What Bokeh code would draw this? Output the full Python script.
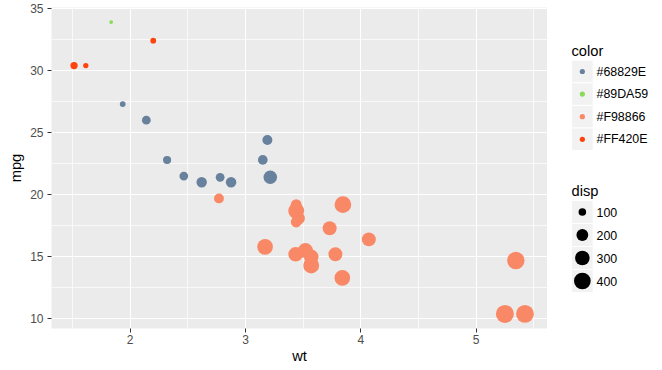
import math
from bokeh.plotting import figure
from bokeh.layouts import row
from bokeh.models import ColumnDataSource, Range1d, FixedTicker
from bokeh.core.properties import value
from bokeh.embed import file_html
from bokeh.resources import INLINE

# ---- data (mtcars) ----
wt = [2.620, 2.875, 2.320, 3.215, 3.440, 3.460, 3.570, 3.190, 3.150, 3.440, 3.440,
      4.070, 3.730, 3.780, 5.250, 5.424, 5.345, 2.200, 1.615, 1.835, 2.465, 3.520,
      3.435, 3.840, 3.845, 1.935, 2.140, 1.513, 3.170, 2.770, 3.570, 2.780]
mpg = [21.0, 21.0, 22.8, 21.4, 18.7, 18.1, 14.3, 24.4, 22.8, 19.2, 17.8,
       16.4, 17.3, 15.2, 10.4, 10.4, 14.7, 32.4, 30.4, 33.9, 21.5, 15.5,
       15.2, 13.3, 19.2, 27.3, 26.0, 30.4, 15.8, 19.7, 15.0, 21.4]
disp = [160, 160, 108, 258, 360, 225, 360, 146.7, 140.8, 167.6, 167.6,
        275.8, 275.8, 275.8, 472, 460, 440, 78.7, 75.7, 71.1, 120.1, 318,
        304, 350, 400, 79, 120.3, 95.1, 351, 145, 301, 121]
color = ["#68829E", "#68829E", "#68829E", "#68829E", "#F98866", "#F98866", "#F98866",
         "#68829E", "#68829E", "#F98866", "#F98866", "#F98866", "#F98866", "#F98866",
         "#F98866", "#F98866", "#F98866", "#FF420E", "#FF420E", "#89DA59", "#68829E",
         "#F98866", "#F98866", "#F98866", "#F98866", "#68829E", "#68829E", "#FF420E",
         "#F98866", "#F98866", "#F98866", "#68829E"]
color_levels = ["#68829E", "#89DA59", "#F98866", "#FF420E"]
disp_breaks = [100, 200, 300, 400]
x_ticks = [2, 3, 4, 5]
y_ticks = [10, 15, 20, 25, 30, 35]

FONT = "Liberation Sans"

# ggplot-like area size scale (range 1..6 mm) -> pixel diameter
dmin, dmax = min(disp), max(disp)
def size_px(d, rng=(1.0, 6.0)):
    s = rng[0] + (rng[1] - rng[0]) * math.sqrt(max(0.0, (d - dmin) / (dmax - dmin)))
    return s * 2.845 + 0.945

def expand(vals, f=0.05):
    lo, hi = min(vals), max(vals)
    r = hi - lo
    return lo - f * r, hi + f * r

xr = expand(wt)
yr = expand(mpg)

src = ColumnDataSource(dict(wt=wt, mpg=mpg, disp=disp, color=color,
                            sz=[size_px(d) for d in disp]))

H = 370
MAIN_W = 547
LEG_W = 115
TOP, BOTTOM, LEFT = 7, 42, 51

p = figure(width=MAIN_W, height=H, output_backend="svg", toolbar_location=None,
           x_range=Range1d(*xr), y_range=Range1d(*yr),
           min_border_left=LEFT, min_border_right=0, min_border_top=TOP, min_border_bottom=BOTTOM)
p.background_fill_color = "#EBEBEB"
p.border_fill_color = "white"
p.outline_line_color = None

for ax in (p.xaxis[0], p.yaxis[0]):
    ax.axis_line_color = None
    ax.major_tick_line_color = "#333333"
    ax.major_tick_line_width = 1
    ax.major_tick_in = 0
    ax.major_tick_out = 4
    ax.minor_tick_line_color = None
    ax.major_label_text_font = FONT
    ax.major_label_text_font_size = "12px"
    ax.major_label_text_color = "#4D4D4D"
    ax.axis_label_text_font = FONT
    ax.axis_label_text_font_size = "14.7px"
    ax.axis_label_text_font_style = "normal"
    ax.axis_label_text_color = "black"

p.xaxis.major_label_standoff = 2
p.yaxis.major_label_standoff = 4
p.xaxis.ticker = FixedTicker(ticks=x_ticks, minor_ticks=[1.5, 2.5, 3.5, 4.5, 5.5])
p.yaxis.ticker = FixedTicker(ticks=y_ticks, minor_ticks=[12.5, 17.5, 22.5, 27.5, 32.5])
p.xaxis.axis_label = "wt"
p.yaxis.axis_label = "mpg"
p.xaxis.axis_label_standoff = 1
p.yaxis.axis_label_standoff = 3

for g in (p.xgrid[0], p.ygrid[0]):
    g.grid_line_color = "white"
    g.grid_line_width = 1.1
    g.minor_grid_line_color = "white"
    g.minor_grid_line_width = 0.7

p.scatter(x="wt", y="mpg", size="sz", fill_color="color", line_color=None, source=src)

# ---- legend panel (frame aligned with main frame; ranges in page pixels) ----
frame_top = TOP
frame_bottom = H - BOTTOM
L = figure(width=LEG_W, height=H, output_backend="svg", toolbar_location=None,
           x_range=Range1d(MAIN_W, MAIN_W + LEG_W), y_range=Range1d(frame_bottom, frame_top),
           min_border_left=0, min_border_right=0, min_border_top=TOP, min_border_bottom=BOTTOM)
L.axis.visible = False
L.grid.visible = False
L.outline_line_color = None
L.background_fill_color = "white"
L.border_fill_color = "white"

key_x0, key_w = 571, 21.7
key_cx = key_x0 + key_w / 2
lab_x = 596

# color legend
ct_y = 50
c_y0, c_step = 71, 22.6
cy = [c_y0 + i * c_step for i in range(len(color_levels))]
L.text(x=[key_x0], y=[ct_y], text=["color"], text_font=value(FONT), text_font_size="14.7px",
       text_baseline="middle", text_align="left", text_color="black")
L.rect(x=[key_cx] * len(cy), y=cy, width=key_w, height=c_step, fill_color="#F2F2F2",
       line_color="white", line_width=1)
L.scatter(x=[key_cx] * len(cy), y=cy, size=5.2, fill_color=color_levels, line_color=None)
L.text(x=[lab_x] * len(cy), y=cy, text=color_levels, text_font=value(FONT),
       text_font_size="12.4px", text_baseline="middle", text_align="left", text_color="black")

# disp legend
dt_y = 190
d_y0, d_step = 211.5, 23
dy = [d_y0 + i * d_step for i in range(len(disp_breaks))]
L.text(x=[key_x0], y=[dt_y], text=["disp"], text_font=value(FONT), text_font_size="14.7px",
       text_baseline="middle", text_align="left", text_color="black")
L.rect(x=[key_cx] * len(dy), y=dy, width=key_w, height=d_step, fill_color="#F2F2F2",
       line_color="white", line_width=1)
L.scatter(x=[key_cx] * len(dy), y=dy, size=[size_px(b) for b in disp_breaks],
          fill_color="black", line_color=None)
L.text(x=[lab_x] * len(dy), y=dy, text=[str(b) for b in disp_breaks], text_font=value(FONT),
       text_font_size="12.4px", text_baseline="middle", text_align="left", text_color="black")

layout = row(p, L, spacing=0)
open("out.html", "w").write(file_html(layout, INLINE))
